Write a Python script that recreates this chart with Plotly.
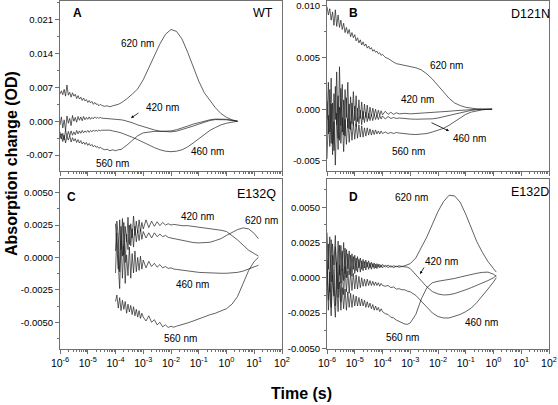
import plotly.graph_objects as go

# ---------------- data (time as log10 seconds, signals in mOD) ----------------
# Panel A : WT
t_A = [-6.0,-5.95,-5.9,-5.85,-5.8,-5.75,-5.7,-5.65,-5.6,-5.55,-5.5,-5.45,-5.4,-5.35,-5.3,-5.25,-5.2,-5.15,-5.1,-5.05,
       -5.0,-4.95,-4.9,-4.85,-4.8,-4.75,-4.7,-4.65,-4.6,-4.55,-4.5,
       -4.4,-4.3,-4.2,-4.1,-4.0,-3.9,-3.8,-3.7,-3.6,
       -3.4,-3.2,-3.0,-2.8,-2.6,-2.4,-2.2,-2.0,-1.8,-1.6,-1.4,-1.2,-1.0,-0.8,-0.6,-0.4,-0.2,0.0,0.2,0.4]
A_620 = [5.6,6.3,5.5,6.6,5.2,7.5,5.4,6.0,5.0,5.9,5.2,5.6,4.7,5.3,4.6,5.0,4.3,4.8,4.2,4.5,
         3.9,4.3,3.8,4.1,3.5,3.9,3.5,3.6,3.2,3.5,3.3,
         3.1,3.2,3.0,3.2,3.3,3.5,3.8,4.2,4.6,
         5.6,6.7,8.6,11.0,13.5,16.0,18.0,19.0,18.6,17.0,14.3,11.3,8.3,5.9,4.4,2.8,1.6,0.8,0.3,0.0]
A_420 = [-0.8,0.9,-1.4,0.3,-1.9,1.1,-0.4,0.6,-0.9,1.2,0.0,0.8,-0.2,1.0,0.2,0.9,0.1,1.0,0.3,0.8,
         0.4,0.9,0.4,0.8,0.5,0.9,0.6,0.8,0.6,0.8,0.65,
         0.6,0.7,0.5,0.6,0.45,0.45,0.3,0.2,0.05,
         -0.3,-0.75,-1.15,-1.5,-1.8,-2.05,-2.2,-2.2,-2.05,-1.75,-1.4,-1.0,-0.6,-0.15,0.15,0.35,0.4,0.3,0.15,0.0]
A_560 = [-3.6,-2.6,-4.2,-2.9,-4.5,-3.2,-3.9,-3.0,-4.3,-3.4,-4.1,-3.6,-4.4,-3.8,-4.5,-4.0,-4.7,-4.3,-4.8,-4.4,
         -5.0,-4.6,-5.1,-4.8,-5.3,-5.0,-5.4,-5.2,-5.6,-5.4,-5.6,
         -5.9,-5.8,-6.1,-5.9,-6.1,-5.9,-5.85,-5.4,-5.0,
         -4.0,-3.0,-2.4,-2.2,-2.1,-2.1,-2.1,-2.0,-1.75,-1.45,-1.0,-0.6,-0.25,0.1,0.3,0.45,0.5,0.4,0.2,0.0]
A_460 = [-2.2,-3.7,-2.5,-3.9,-1.8,-3.3,-2.1,-3.0,-2.0,-2.9,-2.2,-2.8,-1.9,-2.6,-2.0,-2.5,-1.9,-2.4,-2.0,-2.3,
         -1.9,-2.3,-1.9,-2.2,-1.8,-2.1,-1.85,-2.05,-1.8,-2.0,-1.85,
         -1.8,-1.9,-1.85,-2.0,-2.05,-2.25,-2.4,-2.6,-2.8,
         -3.3,-3.8,-4.4,-4.95,-5.45,-5.9,-6.2,-6.3,-6.2,-5.9,-5.3,-4.5,-3.6,-2.7,-1.9,-1.3,-0.75,-0.4,-0.15,0.0]

# Panel B : D121N
t_B = [-6.0,-5.95,-5.9,-5.85,-5.8,-5.75,-5.7,-5.65,-5.6,-5.55,-5.5,-5.45,-5.4,-5.35,-5.3,-5.25,-5.2,-5.15,-5.1,-5.05,
       -5.0,-4.95,-4.9,-4.85,-4.8,-4.75,-4.7,-4.65,-4.6,-4.55,-4.5,-4.45,-4.4,-4.35,-4.3,-4.25,-4.2,-4.15,-4.1,-4.05,-4.0,
       -3.9,-3.8,-3.7,-3.6,-3.5,-3.4,
       -3.2,-3.0,-2.8,-2.6,-2.4,-2.2,-2.0,-1.8,-1.6,-1.4,-1.2,-1.0,-0.8,-0.6,-0.4,-0.2,-0.05]
B_620 = [9.9,9.1,9.7,8.6,9.4,8.1,9.6,8.0,9.1,7.9,8.6,7.7,8.3,7.4,7.9,7.3,7.7,7.0,7.4,6.9,
         7.2,6.6,6.9,6.4,6.7,6.2,6.5,6.1,6.3,5.9,6.1,5.8,5.95,5.6,5.75,5.5,5.6,5.35,5.45,5.2,5.3,
         5.0,4.9,4.7,4.55,4.4,4.35,
         4.2,4.1,4.0,3.8,3.4,2.9,2.3,1.6,1.05,0.6,0.35,0.18,0.08,0.03,0.01,0.0,0.0]
B_420 = [-1.0,2.6,-2.2,3.0,-3.4,1.5,-1.0,3.6,-2.8,4.1,-1.6,2.4,-2.5,1.9,-0.8,2.6,-1.9,1.2,-1.4,1.7,
         -1.1,1.3,-1.2,0.9,-0.9,0.7,-1.0,0.5,-0.8,0.4,-0.9,0.2,-0.7,0.1,-0.6,0.0,-0.7,-0.1,-0.6,-0.15,-0.55,
         -0.2,-0.5,-0.3,-0.5,-0.35,-0.45,
         -0.4,-0.45,-0.42,-0.4,-0.38,-0.35,-0.3,-0.25,-0.2,-0.15,-0.1,-0.06,-0.03,-0.01,0.0,0.0,0.0]
B_460 = [0.8,-2.4,1.9,-3.3,0.6,-4.0,2.2,-1.5,1.3,-3.0,2.0,-2.2,0.9,-2.6,1.1,-1.8,0.5,-2.0,0.6,-1.6,
         0.3,-1.7,0.1,-1.4,-0.1,-1.5,-0.2,-1.3,-0.3,-1.2,-0.4,-1.1,-0.5,-1.1,-0.5,-1.0,-0.6,-1.0,-0.6,-0.95,-0.65,
         -0.95,-0.7,-0.9,-0.8,-0.9,-0.85,
         -0.92,-0.95,-0.97,-0.98,-0.97,-0.93,-0.85,-0.73,-0.6,-0.45,-0.32,-0.2,-0.11,-0.05,-0.02,0.0,0.0]
B_560 = [-4.8,-0.6,-3.6,0.5,-4.4,-1.2,-5.4,-0.4,-3.9,0.2,-3.3,-0.8,-4.1,-1.0,-3.4,-0.9,-3.2,-1.2,-3.0,-1.3,
         -2.9,-1.4,-2.8,-1.5,-2.7,-1.6,-2.7,-1.8,-2.6,-1.8,-2.5,-1.9,-2.5,-2.0,-2.45,-2.0,-2.4,-2.1,-2.4,-2.1,-2.35,
         -2.2,-2.35,-2.25,-2.35,-2.25,-2.3,
         -2.38,-2.42,-2.45,-2.42,-2.35,-2.2,-2.05,-1.85,-1.55,-1.2,-0.8,-0.5,-0.28,-0.14,-0.06,-0.02,0.0]

# Panel C : E132Q
t_C = [-4.0,-3.95,-3.9,-3.85,-3.8,-3.75,-3.7,-3.65,-3.6,-3.55,-3.5,-3.45,-3.4,-3.35,-3.3,-3.25,-3.2,-3.15,-3.1,-3.05,-3.0,
       -2.9,-2.8,-2.7,-2.6,-2.5,-2.4,-2.3,-2.2,-2.1,-2.0,-1.9,-1.8,
       -1.6,-1.4,-1.2,-1.0,-0.8,-0.6,-0.4,-0.2,0.0,0.2,0.4,0.6,0.8,1.0,1.15]
C_420 = [2.6,0.3,-0.9,2.9,0.6,3.0,0.2,2.4,1.2,3.1,1.0,2.6,1.5,3.2,1.7,2.8,1.9,2.9,2.0,2.7,2.2,
         2.9,2.3,2.8,2.4,2.75,2.45,2.7,2.5,2.6,2.5,2.55,2.5,
         2.45,2.45,2.4,2.35,2.3,2.25,2.2,2.1,2.0,1.7,1.35,0.95,0.55,0.3,0.1]
C_620 = [0.5,2.8,1.6,-1.1,2.4,0.1,2.7,-0.4,1.8,0.6,2.5,0.9,2.2,0.8,2.4,1.2,2.1,1.3,2.2,1.4,2.0,
         1.5,1.9,1.5,1.9,1.6,1.8,1.6,1.7,1.55,1.5,1.45,1.4,
         1.3,1.2,1.15,1.12,1.13,1.17,1.3,1.45,1.7,1.95,2.15,2.28,2.2,1.85,1.45]
C_460 = [-1.2,1.9,-0.5,-2.4,1.3,-1.6,0.9,-2.0,0.2,-1.4,0.8,-1.6,0.3,-1.2,0.5,-1.1,0.0,-1.0,0.1,-0.9,-0.2,
         -0.8,-0.3,-0.7,-0.45,-0.75,-0.55,-0.8,-0.7,-0.85,-0.8,-0.9,-0.92,
         -0.98,-1.05,-1.1,-1.15,-1.17,-1.2,-1.2,-1.22,-1.22,-1.2,-1.15,-1.05,-0.9,-0.72,-0.6]
C_560 = [-3.4,-2.9,-3.9,-3.1,-4.1,-3.3,-4.0,-3.4,-4.3,-3.6,-4.2,-3.7,-4.4,-3.8,-4.5,-4.0,-4.6,-4.1,-4.7,-4.3,-4.6,
         -4.9,-4.5,-5.0,-4.8,-5.2,-5.0,-5.35,-5.2,-5.4,-5.3,-5.38,-5.3,
         -5.2,-5.05,-4.9,-4.72,-4.55,-4.42,-4.3,-4.15,-3.95,-3.6,-3.0,-2.0,-1.0,-0.3,0.0]

# Panel D : E132D
t_D = [-6.0,-5.95,-5.9,-5.85,-5.8,-5.75,-5.7,-5.65,-5.6,-5.55,-5.5,-5.45,-5.4,-5.35,-5.3,-5.25,-5.2,-5.15,-5.1,-5.05,
       -5.0,-4.95,-4.9,-4.85,-4.8,-4.75,-4.7,-4.65,-4.6,-4.55,-4.5,-4.45,-4.4,-4.35,-4.3,-4.25,-4.2,-4.15,-4.1,-4.05,-4.0,
       -3.9,-3.8,-3.7,-3.6,-3.5,-3.4,-3.3,-3.2,-3.1,-3.0,
       -2.8,-2.6,-2.4,-2.2,-2.0,-1.8,-1.6,-1.4,-1.2,-1.0,-0.8,-0.6,-0.4,-0.2,0.0,0.1]
D_620 = [3.2,0.6,2.9,-0.3,2.4,0.9,3.0,-0.5,2.6,0.2,2.3,0.5,2.5,0.3,2.0,0.6,1.9,0.4,1.7,0.6,
         1.6,0.5,1.5,0.7,1.4,0.6,1.3,0.7,1.25,0.75,1.2,0.7,1.1,0.75,1.05,0.7,1.0,0.75,0.95,0.75,0.95,
         0.75,0.9,0.75,0.85,0.78,0.85,0.8,0.85,0.9,1.0,
         1.4,2.1,2.9,3.8,4.7,5.4,5.85,5.8,5.35,4.5,3.5,2.55,1.8,1.15,0.65,0.4]
D_420 = [-0.5,2.4,-1.0,2.7,0.2,-1.3,2.2,0.8,-0.8,2.3,-0.4,1.9,-0.2,2.1,0.0,1.7,0.2,1.6,0.1,1.5,
         0.3,1.4,0.4,1.3,0.4,1.2,0.5,1.15,0.55,1.1,0.6,1.05,0.6,1.0,0.65,0.95,0.65,0.95,0.7,0.9,0.7,
         0.9,0.72,0.85,0.72,0.82,0.75,0.8,0.78,0.75,0.65,
         0.2,-0.25,-0.65,-0.98,-1.15,-1.22,-1.2,-1.12,-1.0,-0.85,-0.7,-0.55,-0.38,-0.2,0.0,0.15]
D_460 = [1.3,-1.6,0.4,-2.1,1.6,-0.6,-2.0,1.1,-1.4,0.9,-1.7,0.6,-1.2,0.8,-1.0,0.5,-1.1,0.4,-0.9,0.3,
         -0.8,0.2,-0.8,0.1,-0.7,0.0,-0.6,-0.1,-0.6,-0.1,-0.55,-0.2,-0.55,-0.25,-0.55,-0.3,-0.55,-0.35,-0.6,-0.4,-0.55,
         -0.6,-0.55,-0.7,-0.65,-0.8,-0.78,-0.85,-0.85,-0.95,-1.0,
         -1.25,-1.65,-2.1,-2.5,-2.75,-2.85,-2.85,-2.75,-2.6,-2.4,-2.15,-1.75,-1.3,-0.8,-0.3,0.0]
D_560 = [0.5,-2.3,-0.4,-2.7,0.2,-1.6,-2.8,-0.5,-2.4,-0.3,-2.3,-0.7,-2.2,-0.8,-2.3,-1.0,-2.1,-1.1,-2.1,-1.2,
         -2.0,-1.3,-2.0,-1.4,-2.0,-1.5,-2.0,-1.6,-2.1,-1.7,-2.1,-1.8,-2.2,-1.9,-2.3,-2.0,-2.3,-2.1,-2.4,-2.2,-2.4,
         -2.55,-2.6,-2.8,-2.85,-3.0,-3.1,-3.2,-3.28,-3.3,-3.2,
         -2.6,-1.5,-0.7,-0.35,-0.25,-0.2,-0.15,-0.05,0.05,0.15,0.25,0.32,0.38,0.4,0.25,0.1]

x_tick_exps = [-6, -5, -4, -3, -2, -1, 0, 1, 2]

# ---------------- layout helpers ----------------
W, H = 558, 405
FONT = "Liberation Sans, Arial, sans-serif"
LINE = "#1e1e1e"
AX = "#707070"

def px(x):
    return x / W

def py(y):
    return 1 - y / H

panels = [
    dict(letter="A", name="WT", t=t_A, curves=[A_620, A_420, A_560, A_460],
         xpix=(60, 282), ypix=(1, 171), yr=(-0.0103, 0.0249),
         ytv=[-0.007, 0.0, 0.007, 0.014, 0.021], ytt=["-0.007", "0.000", "0.007", "0.014", "0.021"],
         ymv=[-0.0035, 0.0035, 0.0105, 0.0175, 0.0245], xlab=False,
         letter_pos=(77, 13), name_pos=(263, 13),
         labels=[("620 nm", 137, 43), ("420 nm", 162, 108), ("460 nm", 207, 151), ("560 nm", 112, 163)],
         arrows=[((140, 112), (131, 118))]),
    dict(letter="B", name="D121N", t=t_B, curves=[B_620, B_420, B_460, B_560],
         xpix=(327, 549), ypix=(1, 171), yr=(-0.00597, 0.01045),
         ytv=[-0.005, 0.0, 0.005, 0.010], ytt=["-0.005", "0.000", "0.005", "0.010"],
         ymv=[-0.0025, 0.0025, 0.0075], xlab=False,
         letter_pos=(353, 13), name_pos=(530, 14),
         labels=[("620 nm", 446, 65), ("420 nm", 417, 99), ("460 nm", 469, 138), ("560 nm", 408, 151)],
         arrows=[((430, 122), (449, 131))]),
    dict(letter="C", name="E132Q", t=t_C, curves=[C_420, C_620, C_460, C_560],
         xpix=(60, 282), ypix=(179, 349), yr=(-0.00706, 0.00605),
         ytv=[-0.005, -0.0025, 0.0, 0.0025, 0.005], ytt=["-0.0050", "-0.0025", "0.0000", "0.0025", "0.0050"],
         ymv=[-0.00625, -0.00375, -0.00125, 0.00125, 0.00375], xlab=True,
         letter_pos=(71, 197), name_pos=(256, 194),
         labels=[("420 nm", 197, 216), ("620 nm", 261, 220), ("460 nm", 192, 284), ("560 nm", 180, 338)],
         arrows=[]),
    dict(letter="D", name="E132D", t=t_D, curves=[D_620, D_420, D_460, D_560],
         xpix=(327, 549), ypix=(179, 349), yr=(-0.00505, 0.0070),
         ytv=[-0.005, -0.0025, 0.0, 0.0025, 0.005], ytt=["-0.0050", "-0.0025", "0.0000", "0.0025", "0.0050"],
         ymv=[-0.00375, -0.00125, 0.00125, 0.00375, 0.00625], xlab=True,
         letter_pos=(353, 197), name_pos=(530, 192),
         labels=[("620 nm", 411, 197), ("420 nm", 441, 261), ("460 nm", 481, 322), ("560 nm", 402, 337)],
         arrows=[((425, 266), (420, 274))]),
]

for p in panels:
    for c in p["curves"]:
        assert len(c) == len(p["t"]), (p["letter"], len(c), len(p["t"]))

fig = go.Figure()
layout = dict(width=W, height=H, margin=dict(l=0, r=0, t=0, b=0), showlegend=False,
              paper_bgcolor="white", plot_bgcolor="white",
              font=dict(family=FONT, size=10, color="black"))
annotations = []

x_minor = [m * 10.0 ** k for k in range(-6, 2) for m in range(2, 10)]

def note(text, x, y, size, **kw):
    d = dict(text=text, x=px(x), y=py(y), xref="paper", yref="paper", showarrow=False,
             xanchor="center", yanchor="middle", font=dict(size=size, family=FONT, color="black"))
    d.update(kw)
    return d

for i, p in enumerate(panels):
    n = "" if i == 0 else str(i + 1)
    xa, ya = "x" + n, "y" + n
    xs = [10.0 ** v for v in p["t"]]
    for c in p["curves"]:
        fig.add_trace(go.Scatter(x=xs, y=[v * 1e-3 for v in c], mode="lines",
                                 line=dict(color=LINE, width=0.7), xaxis=xa, yaxis=ya,
                                 hoverinfo="skip"))
    layout["xaxis" + n] = dict(
        type="log", range=[-6, 2], domain=[px(p["xpix"][0]), px(p["xpix"][1])], anchor=ya,
        showgrid=False, zeroline=False, showline=True, linecolor=AX, linewidth=1, mirror=True,
        ticks="outside", ticklen=4, tickcolor=AX, tickwidth=1,
        tickmode="array", tickvals=[10.0 ** e for e in x_tick_exps],
        ticktext=["10<sup>%d</sup>" % e for e in x_tick_exps],
        showticklabels=p["xlab"], tickfont=dict(size=10.5, family=FONT, color="black"),
        ticklabeloverflow="allow",
        minor=dict(tickmode="array", tickvals=x_minor, ticks="outside", ticklen=2,
                   tickcolor=AX, tickwidth=1, showgrid=False),
        automargin=False)
    layout["yaxis" + n] = dict(
        range=list(p["yr"]), domain=[py(p["ypix"][1]), py(p["ypix"][0])], anchor=xa,
        showgrid=False, zeroline=False, showline=True, linecolor=AX, linewidth=1, mirror=True,
        ticks="outside", ticklen=4, tickcolor=AX, tickwidth=1,
        tickmode="array", tickvals=p["ytv"], ticktext=p["ytt"],
        tickfont=dict(size=9.5, family=FONT, color="black"),
        ticklabeloverflow="allow",
        minor=dict(tickmode="array", tickvals=p["ymv"], ticks="outside", ticklen=2,
                   tickcolor=AX, tickwidth=1, showgrid=False),
        automargin=False)

    annotations.append(note("<b>%s</b>" % p["letter"], p["letter_pos"][0], p["letter_pos"][1], 12))
    annotations.append(note(p["name"], p["name_pos"][0], p["name_pos"][1], 12.5))
    for txt, lx, ly in p["labels"]:
        annotations.append(note(txt, lx, ly, 10))
    for (tx, ty), (hx, hy) in p["arrows"]:
        annotations.append(dict(text="", x=px(hx), y=py(hy), xref="paper", yref="paper",
                                ax=tx - hx, ay=ty - hy, axref="pixel", ayref="pixel",
                                showarrow=True, arrowhead=2, arrowsize=0.7, arrowwidth=0.8,
                                arrowcolor="black"))

annotations.append(note("<b>Absorption change (OD)</b>", 11, 164, 16, textangle=-90))
annotations.append(note("<b>Time (s)</b>", 301, 393, 16))
layout["annotations"] = annotations
fig.update_layout(**layout)
fig.write_html("out.html", config={"displayModeBar": False},
               post_script="document.body.style.margin='0px';document.body.style.padding='0px';")
